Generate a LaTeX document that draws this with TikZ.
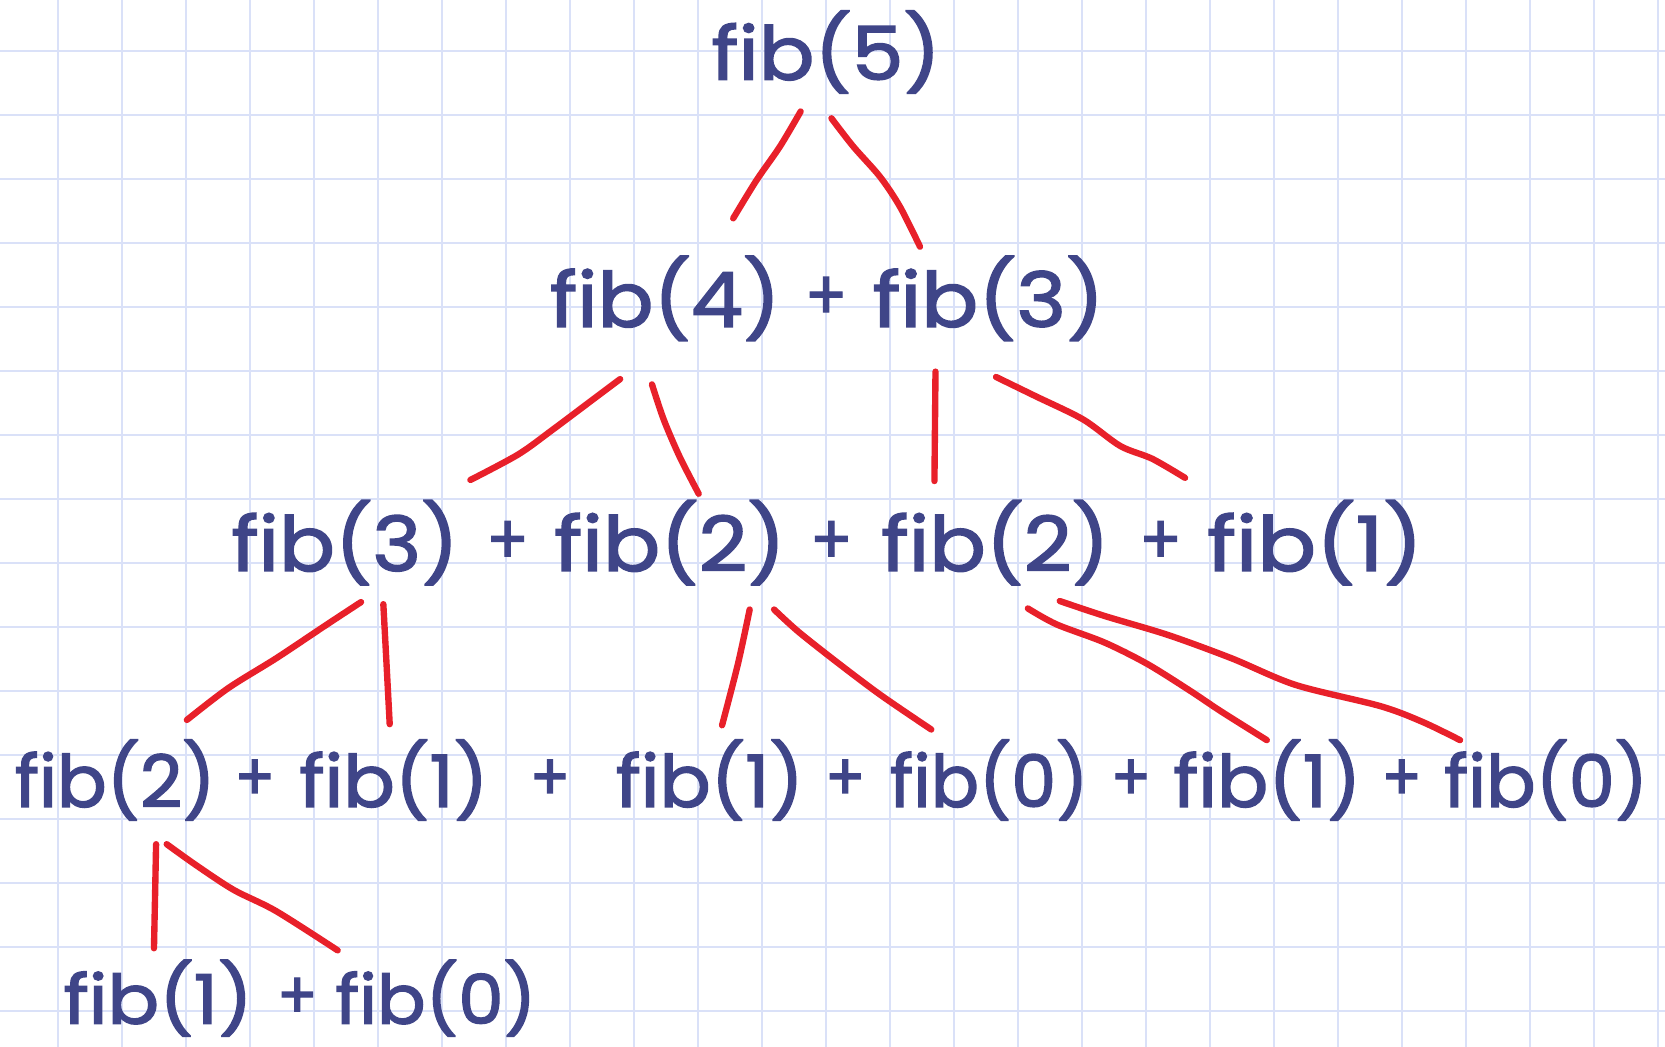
\documentclass[tikz,border=0pt]{standalone}
\usepackage{fontspec}
\setmainfont{Poppins}
\newfontfamily\heavy{Poppins}[FakeBold=2]
\usepackage{graphicx}
\definecolor{ink}{HTML}{3F4588}
\definecolor{penred}{HTML}{E8202A}
\definecolor{gridc}{HTML}{DAE1F8}
\newcommand{\tok}[3]{\resizebox*{#1mm}{#2mm}{#3}}
\begin{document}
\begin{tikzpicture}[x=0.1mm,y=-0.1mm,
 txt/.style={inner sep=0pt, outer sep=0pt, text=ink, font=\heavy\fontsize{25}{30}\selectfont},
 redpen/.style={draw=penred, line width=0.6mm, line cap=round, line join=round},
 gridline/.style={draw=gridc, line width=0.22mm}]
\useasboundingbox (0,0) rectangle (1568,986);
\fill[white] (0,0) rectangle (1568,986);
\foreach \k in {0,...,25} \draw[gridline] ({54.6+60.27*\k},0) -- ({54.6+60.27*\k},986);
\foreach \k in {0,...,15} \draw[gridline] (0,{48+60.27*\k}) -- (1568,{48+60.27*\k});
% row 0
\node[txt] (r0) at (778,49) {\tok{21.6}{7.8}{fib(5)}};
% row 1
\node[txt] (r1a) at (626.5,281) {\tok{21.7}{8.0}{fib(4)}};
\node[txt] (r1p) at (778,281) {\tok{4.0}{4.0}{+}};
\node[txt] (r1b) at (931,281) {\tok{21.8}{8.0}{fib(3)}};
% row 2
\node[txt] (r2a) at (325,511) {\tok{21.4}{8.0}{fib(3)}};
\node[txt] (r2p1) at (478,511) {\tok{4.0}{4.0}{+}};
\node[txt] (r2b) at (631,511) {\tok{21.8}{8.0}{fib(2)}};
\node[txt] (r2p2) at (783,511) {\tok{4.0}{4.0}{+}};
\node[txt] (r2c) at (937.5,511) {\tok{21.5}{8.0}{fib(2)}};
\node[txt] (r2p3) at (1093,511) {\tok{4.0}{4.0}{+}};
\node[txt] (r2d) at (1238.5,511) {\tok{20.3}{8.0}{fib(1)}};
% row 3
\node[txt] (r3a) at (108.5,734.5) {\tok{18.9}{7.6}{fib(2)}};
\node[txt] (r3p1) at (240,734.5) {\tok{3.8}{3.8}{+}};
\node[txt] (r3b) at (371,734.5) {\tok{17.8}{7.6}{fib(1)}};
\node[txt] (r3p2) at (518,734.5) {\tok{3.8}{3.8}{+}};
\node[txt] (r3c) at (668.5,734.5) {\tok{17.7}{7.6}{fib(1)}};
\node[txt] (r3p3) at (796,734.5) {\tok{3.8}{3.8}{+}};
\node[txt] (r3d) at (931.5,734.5) {\tok{18.7}{7.6}{fib(0)}};
\node[txt] (r3p4) at (1065,734.5) {\tok{3.8}{3.8}{+}};
\node[txt] (r3e) at (1193.5,734.5) {\tok{17.7}{7.6}{fib(1)}};
\node[txt] (r3p5) at (1320,734.5) {\tok{3.8}{3.8}{+}};
\node[txt] (r3f) at (1456,734.5) {\tok{19.2}{7.6}{fib(0)}};
% row 4
\node[txt] (r4a) at (149,940) {\tok{17.8}{7.2}{fib(1)}};
\node[txt] (r4p) at (280,940) {\tok{3.8}{3.8}{+}};
\node[txt] (r4b) at (410.5,940) {\tok{18.9}{7.2}{fib(0)}};
% connectors
\draw[redpen] plot[smooth, tension=0.5] coordinates {([shift={(-24,56)}]r0.center) (734.5,138) (712.6,169.5) ([shift={(64,-75.4)}]r1a.center)};
\draw[redpen] plot[smooth, tension=0.5] coordinates {([shift={(5,62.4)}]r0.center) (803.6,138) (828.7,166.4) (847.5,194.6) ([shift={(-64.6,-48.7)}]r1b.center)};
\draw[redpen] plot[smooth, tension=0.5] coordinates {([shift={(-42.5,76)}]r1a.center) (560,375) (520,405) (488,428) ([shift={(118,-59)}]r2a.center)};
\draw[redpen] plot[smooth, tension=0.5] coordinates {([shift={(-12.5,81)}]r1a.center) (625,395) (640,430) ([shift={(27,-46)}]r2b.center)};
\draw[redpen] ([shift={(-50,69)}]r1b.center) -- ([shift={(-57.5,-58)}]r2c.center);
\draw[redpen] plot[smooth, tension=0.5] coordinates {([shift={(7,74)}]r1b.center) (975,373) (1020,395) (1055,420) (1085,432) ([shift={(-122.5,-61)}]r2d.center)};
\draw[redpen] plot[smooth, tension=0.5] coordinates {([shift={(15,56)}]r2a.center) (305,590) (260,620) (215,648) ([shift={(67.5,-56.5)}]r3a.center)};
\draw[redpen] plot[smooth, tension=0.5] coordinates {([shift={(36,58)}]r2a.center) (364,625) ([shift={(-4,-52.5)}]r3b.center)};
\draw[redpen] plot[smooth, tension=0.5] coordinates {([shift={(75,63)}]r2b.center) (695,625) ([shift={(11.5,-51.5)}]r3c.center)};
\draw[redpen] plot[smooth, tension=0.5] coordinates {([shift={(98,63)}]r2b.center) (752,595) (790,625) (830,655) ([shift={(-54.5,-47.5)}]r3d.center)};
\draw[redpen] plot[smooth, tension=0.5] coordinates {([shift={(30.5,62)}]r2c.center) (995,588) (1040,605) (1080,625) (1120,650) (1150,670) ([shift={(-0.5,-37.5)}]r3e.center)};
\draw[redpen] plot[smooth, tension=0.5] coordinates {([shift={(60.5,55)}]r2c.center) (1040,580) (1100,598) (1160,620) (1220,645) (1300,665) (1340,680) ([shift={(-81,-37.5)}]r3f.center)};
\draw[redpen] plot[smooth, tension=0.5] coordinates {([shift={(38.5,60.5)}]r3a.center) (146,845) ([shift={(-4,-47)}]r4a.center)};
\draw[redpen] plot[smooth, tension=0.5] coordinates {([shift={(48.5,60.5)}]r3a.center) (185,815) (220,838) (260,858) ([shift={(-92.5,-45)}]r4b.center)};
\end{tikzpicture}
\end{document}
